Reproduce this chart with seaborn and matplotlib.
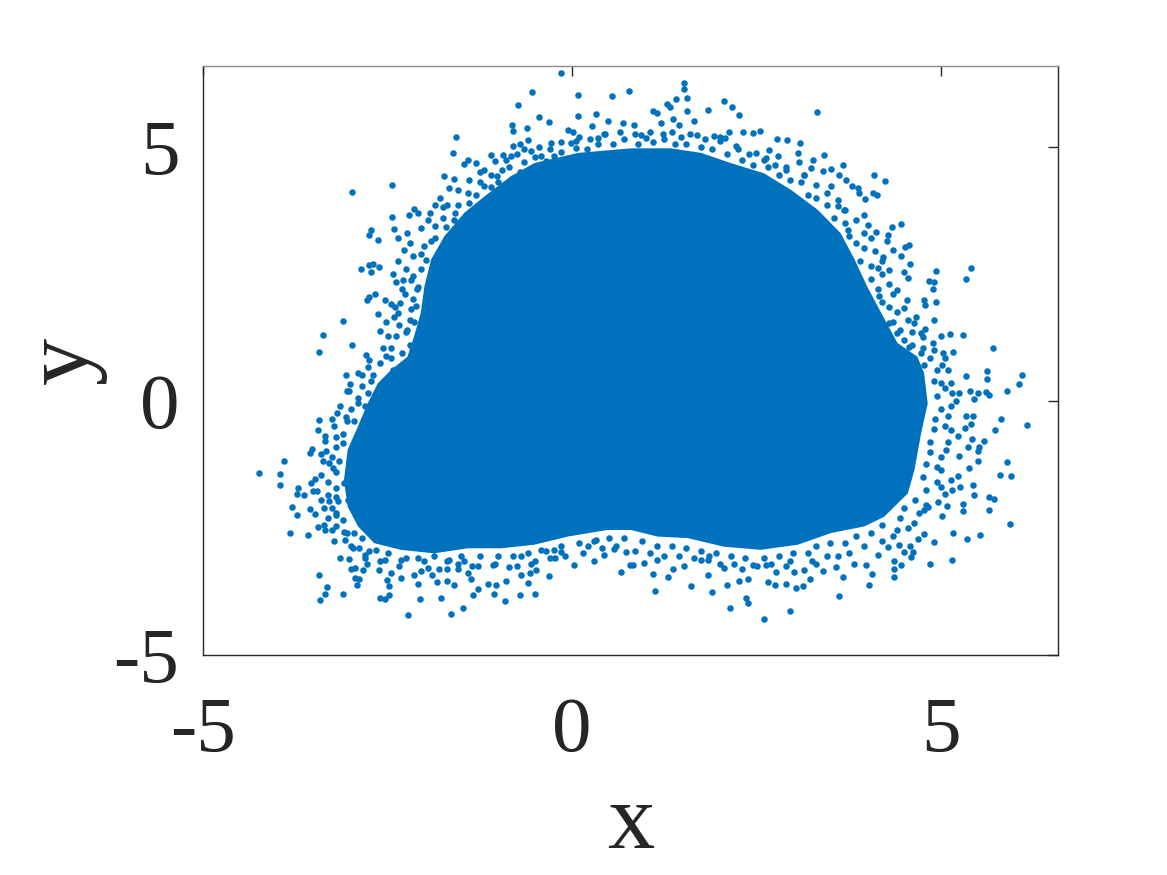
import matplotlib
matplotlib.use("Agg")
import matplotlib.pyplot as plt
import seaborn as sns

# points, one block per quadrant
ul_x = [-0.149,-0.537,-0.736,0.081,0.542,0.777,0.33,0.081,-0.443,-0.307,-0.808,-0.795,-0.605,-1.567,-1.617,-0.6,-0.8,-0.71,-0.059,0.009,0.267,0.483,0.687,0.429,0.357,0.054,-0.284,-1.097,-0.94,-1.41,-1.3,-1.46,-2.434,-2.976,-1.73,-1.594,-1.66,-1.784,-1.752,-2.145,-2.09,-2.21,-2.44,-2.416,-2.723,-2.746,-2.633,-2.353,-2.24,-2.27,-2.36,-2.69,-2.755,-2.854,-2.61,-2.723,-2.42,-2.39,-2.286,-2.18,-2.67,-2.746,-2.78,-2.53,-2.45,-2.326,-2.263,-2.624,-2.36,-2.41,-2.52,-3.103,-2.597,-3.378,-2.981,-3.428,-2.796,-2.52,-2.565,-2.5,-2.385,-2.23,-2.14,-2.11,-2.09,-1.98,-1.91,-1.93,-1.71,-1.59,-1.41,-1.19,-1.19,-1.01,-0.83,-0.56,-0.42,-0.24,-0.01]
ul_y = [6.45,6.07,5.83,6.01,5.99,6.1,5.65,5.61,5.58,5.49,5.42,5.32,5.37,5.2,4.87,5.14,5.01,5.06,5.34,5.3,5.4,5.5,5.47,5.26,5.17,5.11,5.07,4.84,4.84,4.74,4.69,4.67,4.24,4.11,4.42,4.37,4.19,4.0,3.81,3.78,3.7,3.65,3.62,3.38,3.37,3.27,3.16,3.2,3.3,2.97,2.76,2.7,2.68,2.6,2.63,2.53,2.49,2.33,2.38,2.38,2.11,2.05,1.99,1.99,1.91,1.92,2.1,1.71,1.73,1.65,1.56,1.58,1.38,1.29,1.1,0.96,0.91,0.89,1.05,1.27,1.27,1.4,1.56,1.86,2.25,2.78,3.14,3.7,3.43,3.7,4.09,4.22,4.55,4.42,4.81,4.91,4.81,4.81,5.07]

ur_x = [1.513,1.513,1.558,1.409,1.282,1.323,1.093,1.147,1.558,1.838,2.064,2.168,2.267,3.319,0.835,1.364,1.657,1.205,1.454,1.228,0.934,2.131,2.321,2.457,2.547,1.919,2.077,2.773,2.917,3.089,2.669,3.057,3.419,3.261,3.08,3.676,3.509,3.243,3.396,4.096,4.236,3.622,3.712,3.789,3.879,4.083,4.128,3.974,3.893,4.462,4.336,4.286,4.263,4.57,4.512,4.354,4.453,4.58,4.29,4.494,4.552,4.936,5.401,5.334,4.842,4.9,4.887,4.932,4.765,4.783,4.539,4.9,4.66,4.783,5.12,5.302,5.709,5.167,5.022,5.0,4.887,4.73,4.64,4.73,4.57,4.41,4.3,4.41,4.5,4.16,4.14,4.21,4.12,4.01,3.96,3.74,3.69,3.6,3.51,3.15,2.9,2.79,2.63,2.49,2.22,2.0,1.7,1.48,1.0]
ur_y = [6.25,6.135,5.96,5.95,5.85,5.78,5.71,5.66,5.7,5.73,5.91,5.79,5.63,5.68,5.42,5.55,5.51,5.47,5.43,5.26,5.24,5.3,5.3,5.28,5.31,5.22,5.17,5.15,5.13,5.07,4.94,4.88,4.84,4.75,4.7,4.65,4.56,4.58,4.53,4.44,4.32,4.44,4.34,4.22,4.19,4.09,4.06,3.98,4.09,3.48,3.43,3.27,3.15,3.06,3.02,2.97,2.86,2.69,2.57,2.53,2.42,2.56,2.62,2.39,2.36,2.34,2.21,1.94,1.98,1.89,1.98,1.6,1.66,1.42,1.32,1.3,1.04,0.97,0.94,1.27,1.14,1.33,1.53,0.94,1.07,1.33,1.53,2.19,1.83,2.06,2.61,2.84,3.33,3.47,3.66,3.37,3.76,3.83,4.22,4.45,4.61,4.81,4.78,4.88,5.01,5.11,5.24,5.2,5.17]

ll_x = [-2.76,-3.062,-2.841,-3.013,-3.022,-2.723,-2.59,-2.904,-2.81,-3.184,-3.062,-3.428,-3.442,-3.22,-2.95,-3.198,-3.347,-3.527,-3.55,-3.333,-3.107,-3.907,-4.237,-3.952,-3.961,-3.369,-3.293,-3.234,-3.153,-3.482,-3.541,-3.713,-3.722,-3.627,-3.514,-3.455,-3.31,-3.198,-3.288,-3.17,-3.798,-3.731,-3.546,-3.482,-3.356,-3.256,-3.198,-3.437,-3.365,-3.342,-3.826,-3.577,-3.225,-3.071,-3.202,-3.085,-2.95,-2.972,-2.891,-3.139,-3.026,-2.809,-2.778,-2.994,-2.94,-2.827,-3.428,-2.94,-2.886,-2.909,-3.324,-3.347,-3.414,-3.103,-2.606,-2.529,-2.48,-2.484,-2.51,-2.317,-2.091,-2.06,-2.218,-1.775,-1.64,-1.481,-1.829,-1.689,-1.599,-1.897,-1.698,-1.549,-1.414,-1.364,-1.269,-1.341,-1.134,-1.034,-1.057,-0.89,-0.908,-0.705,-0.506,-0.592,-0.686,-0.565,-0.483,-0.312,-0.497,-0.235,0.027,0.298,0.429,0.668,0.79,0.73,0.574,0.325,0.21,-0.149,-0.24,-0.42,-0.69,-0.85,-1.075,-1.28,-1.46,-1.66,-1.955,-2.137,-2.45,-2.61,-2.656,-2.54,-2.317,-2.09,-1.865,-2.904,-3.04,-3.085,-2.95,-2.77,-2.63,-2.43]
ll_y = [0.66,0.51,0.5,0.33,0.2,0.39,0.27,-0.05,-0.11,-0.24,-0.31,-0.37,-0.58,-0.5,-0.39,-0.71,-0.79,-0.95,-1.03,-0.98,-0.83,-1.18,-1.42,-1.44,-1.65,-1.19,-1.23,-1.33,-1.19,-1.53,-1.61,-1.72,-1.83,-1.85,-1.77,-1.77,-1.85,-1.72,-1.97,-1.97,-2.09,-2.24,-2.13,-2.22,-2.11,-2.11,-2.24,-2.49,-2.44,-2.54,-2.6,-2.64,-2.75,-2.74,-2.47,-2.57,-2.6,-2.89,-2.89,-3.1,-3.11,-3.04,-3.2,-3.31,-3.29,-3.33,-3.43,-3.49,-3.5,-3.63,-3.66,-3.79,-3.92,-3.79,-3.88,-3.9,-3.81,-3.64,-3.52,-3.48,-3.6,-3.9,-4.22,-3.87,-4.19,-4.08,-3.57,-3.54,-3.62,-3.42,-3.31,-3.31,-3.39,-3.5,-3.71,-3.81,-3.6,-3.62,-3.79,-3.54,-3.94,-3.81,-3.79,-3.58,-3.43,-3.38,-3.33,-3.45,-3.15,-3.1,-3.22,-3.15,-3.03,-3.36,-3.23,-2.98,-2.92,-2.74,-2.85,-2.97,-2.93,-2.93,-3.06,-3.26,-3.23,-3.24,-3.16,-3.13,-3.29,-3.43,-3.39,-3.33,-2.93,-3.13,-3.13,-3.1,-3.06,-2.21,-1.95,-1.62,-0.83,0.15,-0.05,0.61]

lr_x = [5.627,5.627,6.101,6.057,5.898,5.338,5.61,5.646,5.497,5.397,5.451,6.169,5.808,5.731,5.429,5.338,5.406,5.329,5.424,5.578,5.519,5.496,5.361,5.243,5.496,5.379,5.894,5.794,5.943,5.234,5.438,5.252,5.451,5.655,5.718,5.302,5.298,5.65,5.93,5.162,5.347,5.528,4.905,5.144,4.851,5.085,5.054,5.009,4.765,4.692,4.625,4.58,4.593,4.503,4.435,4.462,4.358,4.358,4.367,4.065,4.024,3.676,3.622,3.581,3.396,3.229,3.13,3.039,2.899,2.755,2.651,2.764,2.38,2.357,2.14,2.949,2.597,2.389,2.267,2.1,1.892,1.842,1.612,1.3,1.124,1.097,0.82,0.98,1.147,1.364,1.522,1.748,1.838,2.064,2.2,2.448,2.628,2.899,3.012,3.148,3.306,3.6,3.825,3.983,4.141,4.277,5.0,4.954,4.819,5.135,5.0,5.225,5.135,5.07,5.248,5.135,5.135,5.02,4.774,5.0,4.773,4.64,4.41]
lr_y = [0.59,0.43,0.51,0.33,0.2,0.49,0.18,0.12,0.15,0.2,0.03,-0.48,-0.36,-0.58,-0.3,-0.3,-0.46,-0.53,-0.75,-0.79,-0.9,-0.98,-0.9,-1.09,-1.18,-1.33,-1.2,-1.45,-1.47,-1.48,-1.65,-1.69,-1.85,-1.9,-1.93,-2.03,-2.17,-2.14,-2.42,-2.6,-2.71,-2.64,-2.77,-3.14,-3.2,-2.06,-1.84,-2.26,-2.62,-2.72,-2.97,-2.85,-3.07,-2.97,-2.83,-3.22,-3.16,-3.31,-3.46,-3.41,-3.62,-3.46,-3.84,-3.26,-3.34,-3.5,-3.65,-3.68,-3.61,-3.63,-3.57,-3.36,-3.98,-3.88,-4.08,-4.13,-4.3,-3.5,-3.54,-3.62,-3.77,-3.43,-3.65,-3.47,-3.74,-3.41,-3.23,-3.18,-3.14,-3.31,-3.25,-3.13,-3.13,-3.29,-3.2,-3.23,-3.23,-3.24,-3.36,-3.33,-3.2,-3.06,-3.2,-3.23,-3.03,-2.87,-1.69,-1.98,-2.08,-1.56,-1.36,-0.7,-0.57,-0.96,0.15,-0.11,0.35,0.71,0.71,0.35,-2.15,-2.41,-2.54]

# points hugging the edge of the solid area
band_x = [-2.3,-2.2,-2.25,-2.2,-2.18,-2.15,-2.1,-2.15,-2.05,-2.05,-2.0,-1.85,-1.85,-1.75,-1.6,-1.55,-1.4,-1.3,-1.25,-1.1,-1.0,-0.95,-0.85,-0.7,-0.65,-0.5,-0.35,-0.15,0.05,0.2,0.35,0.55,0.7,0.9,1.1,1.25,1.4,1.55,1.75,1.9,2.1,2.3,2.45,2.65,2.8,2.95,3.1,3.2,3.3,3.45,3.55,3.7,3.75,3.85,3.95,3.9,4.05,4.05,4.15,4.2,4.3,4.35,4.45,4.5,4.6,4.75,4.85,4.95,4.9,5.05,4.95,5.0,4.92,4.9,4.85,4.85,4.8,4.75,4.8,4.65,4.5,4.45,4.2,4.05,3.85,3.7,3.5,3.3,3.2,3.0,2.8,2.6,2.35,2.15,1.95,1.75,1.55,1.35,1.15,0.95,0.7,0.5,0.3,0.1,-0.15,-0.35,-0.6,-0.8,-1.0,-1.25,-1.5,-1.7,-2.0,-2.25,-2.5,-2.75,-2.85,-3.05,-3.1,-3.2,-3.2,-3.3,-3.2,-3.25,-3.2,-3.1,-3.05,-3.0,-2.9,-2.85,-2.7,-2.6,-2.45]
band_y = [0.95,1.1,1.35,1.6,1.8,2.0,2.2,2.45,2.6,2.9,3.05,3.2,3.45,3.6,3.55,3.85,3.9,4.05,4.3,4.2,4.3,4.55,4.6,4.5,4.7,4.8,4.72,4.9,4.98,4.95,5.05,5.05,5.15,5.05,5.1,5.15,5.05,5.05,5.0,4.95,4.85,4.75,4.65,4.6,4.45,4.35,4.3,4.05,4.0,3.85,3.6,3.5,3.25,3.1,3.0,2.75,2.65,2.4,2.2,1.95,1.85,1.55,1.4,1.2,1.1,1.05,0.85,0.6,0.4,0.25,0.1,-0.15,-0.35,-0.55,-0.8,-1.0,-1.25,-1.5,-1.75,-1.95,-2.1,-2.3,-2.45,-2.6,-2.65,-2.8,-2.8,-2.85,-3.0,-3.0,-3.05,-3.1,-3.1,-3.05,-3.0,-2.95,-2.9,-2.85,-2.85,-2.75,-2.7,-2.7,-2.75,-2.8,-2.85,-2.95,-3.0,-3.05,-3.05,-3.05,-3.05,-3.15,-3.15,-3.1,-3.0,-2.95,-2.7,-2.6,-2.35,-2.2,-1.9,-1.6,-1.4,-1.1,-0.9,-0.65,-0.4,-0.15,0.05,0.3,0.5,0.75,0.85]

outer_x = [-2.45,-2.35,-2.4,-2.3,-2.25,-2.15,-2.2,-2.05,-1.95,-1.85,-1.7,-1.55,-1.4,-1.25,-1.1,-1.05,-0.9,-0.75,-0.65,-0.45,-0.3,-0.15,0.1,0.25,0.45,0.65,0.85,1.05,1.35,1.6,1.8,2.0,2.25,2.4,2.6,2.75,2.9,3.15,3.3,3.45,3.6,3.7,3.85,3.95,4.05,4.1,4.2,4.2,4.3,4.35,4.4,4.55,4.6,4.75,4.9,5.05,5.1,5.15,5.2,5.1,5.05,5.1,5.0,4.95,4.95,5.15,4.8,4.7,4.55,4.35,4.2,3.95,3.75,3.45,3.25,2.95,2.7,2.5,2.3,2.0,1.85,1.65,1.45,1.25,1.05,0.85,0.6,0.4,0.15,-0.1,-0.3,-0.55,-0.75,-1.05,-1.35,-1.55,-1.8,-2.05,-2.35,-2.6,-2.8,-3.0,-3.25,-3.3,-3.4,-3.4,-3.4,-3.35,-3.25,-3.15,-3.05,-2.9,-2.75]
outer_y = [1.05,1.5,1.85,2.2,2.6,2.85,3.1,3.4,3.55,3.85,3.85,4.15,4.35,4.5,4.45,4.72,4.75,4.85,4.95,5.0,4.95,5.1,5.2,5.15,5.25,5.3,5.25,5.3,5.3,5.25,5.15,5.2,4.95,4.85,4.75,4.65,4.55,4.45,4.25,4.1,3.95,3.75,3.55,3.3,3.2,2.95,2.75,2.5,2.3,2.1,1.75,1.6,1.35,1.25,1.0,0.85,0.6,0.15,0.0,-0.3,-0.5,-0.8,-1.1,-1.3,-1.6,-1.75,-2.05,-2.2,-2.5,-2.65,-2.75,-2.85,-3.0,-3.05,-3.15,-3.15,-3.2,-3.25,-3.3,-3.2,-3.05,-3.1,-3.05,-3.05,-3.0,-2.95,-2.85,-2.9,-3.0,-3.05,-3.1,-3.2,-3.25,-3.2,-3.25,-3.2,-3.3,-3.35,-3.25,-3.15,-3.1,-2.85,-2.55,-2.3,-1.95,-1.45,-1.05,-0.7,-0.35,-0.1,0.2,0.55,0.8]

# outline of the part where the points merge into a solid area
core_x = [-2.23,-2.14,-2.05,-2.0,-1.91,-1.73,-1.46,-1.19,-0.83,-0.51,0.08,0.8,1.34,1.75,2.15,2.6,2.97,3.33,3.64,3.83,4.0,4.19,4.41,4.68,4.77,4.82,4.73,4.64,4.55,4.23,3.96,3.51,3.06,2.56,2.06,1.57,1.16,0.8,0.48,-0.06,-0.51,-0.96,-1.41,-1.87,-2.32,-2.68,-2.9,-3.04,-3.09,-3.04,-2.9,-2.77,-2.63,-2.45]
core_y = [0.87,1.27,1.73,2.25,2.78,3.24,3.7,4.02,4.42,4.68,4.88,4.97,4.97,4.88,4.68,4.48,4.15,3.76,3.3,2.78,2.25,1.73,1.14,0.87,0.55,-0.05,-0.64,-1.36,-1.82,-2.28,-2.47,-2.6,-2.83,-2.93,-2.87,-2.7,-2.67,-2.54,-2.54,-2.67,-2.83,-2.9,-2.9,-3.0,-2.93,-2.8,-2.47,-2.08,-1.56,-0.96,-0.5,-0.05,0.35,0.61]

x_ticks = [-5, 0, 5]
y_ticks = [-5, 0, 5]

blue = "#0072bd"
ink = "#262626"

sns.set_theme(style="white")
plt.rcParams["font.family"] = ["Liberation Serif", "DejaVu Serif"]

fig = plt.figure(figsize=(11.67, 8.75), dpi=100)
ax = fig.add_axes([203 / 1167, 220 / 875, 855 / 1167, 589 / 875])

all_x = ul_x + ur_x + ll_x + lr_x + band_x + outer_x
all_y = ul_y + ur_y + ll_y + lr_y + band_y + outer_y

ax.fill(core_x, core_y, color=blue, lw=0)
sns.scatterplot(x=all_x, y=all_y, color=blue, s=22, linewidth=0, ax=ax)

ax.set_xlim(-5, 6.585)
ax.set_ylim(-5, 6.59)
ax.set_xticks(x_ticks)
ax.set_yticks(y_ticks)
ax.set_xticklabels([str(t) for t in x_ticks])
ax.set_yticklabels([str(t) for t in y_ticks])
ax.tick_params(direction="in", length=7, width=1, color=ink, top=True, right=True,
               labelsize=57, labelcolor=ink)
ax.tick_params(axis="x", pad=30)
ax.tick_params(axis="y", pad=17)
ax.set_xlabel("x", fontsize=68, color=ink, labelpad=11)
ax.set_ylabel("y", fontsize=68, color=ink, labelpad=5)
for s in ax.spines.values():
    s.set_color(ink)
    s.set_linewidth(1.0)
ax.spines["top"].set_color("#8c8c8c")

fig.savefig("out.png", dpi=100)
